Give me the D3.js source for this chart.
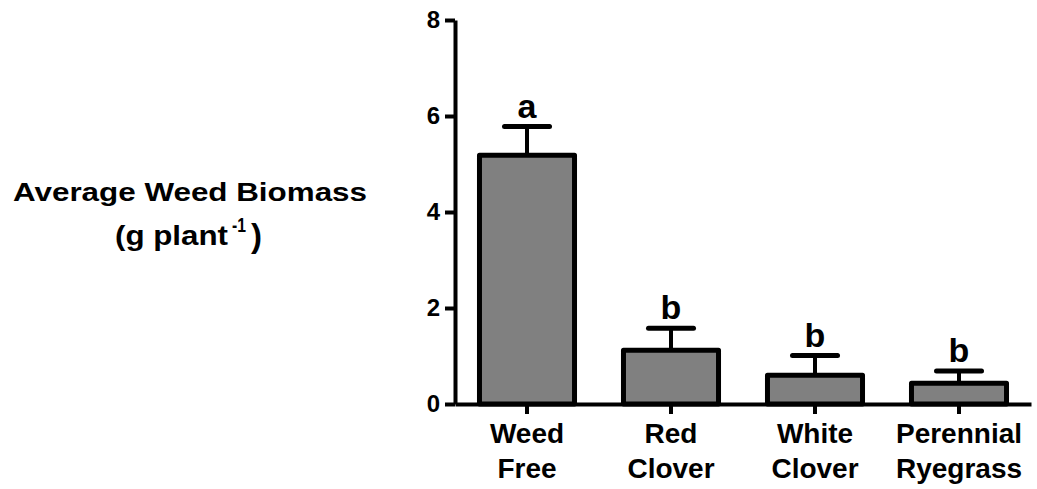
<!DOCTYPE html>
<html>
<head>
<meta charset="utf-8">
<script src="https://cdn.jsdelivr.net/npm/d3@7"></script>
<style>
  html, body { margin: 0; padding: 0; background: #fff; }
  svg { display: block; }
  text { font-family: "Liberation Sans", Arial, sans-serif; font-weight: bold; fill: #000; }
</style>
</head>
<body>
<svg id="chart" width="1037" height="489"></svg>
<script>
const categories = ["Weed Free", "Red Clover", "White Clover", "Perennial Ryegrass"];
const means = [5.18, 1.12, 0.60, 0.43];
const errors = [0.60, 0.46, 0.41, 0.26];
const letters = ["a", "b", "b", "b"];
const yTicks = [0, 2, 4, 6, 8];

const svg = d3.select("#chart");
const plotLeft = 455, plotRight = 1031, plotTop = 20, plotBottom = 404;

const x = d3.scaleBand().domain(categories).range([plotLeft, plotRight])
  .paddingInner(0.34).paddingOuter(0.17);
const y = d3.scaleLinear().domain([0, 8]).range([plotBottom, plotTop]);

const data = categories.map((c, i) => ({ c, m: means[i], e: errors[i], l: letters[i] }));

// bars
svg.append("g").selectAll("rect").data(data).join("rect")
  .attr("x", d => x(d.c))
  .attr("y", d => y(d.m))
  .attr("width", x.bandwidth())
  .attr("height", d => y(0) - y(d.m))
  .attr("fill", "#808080")
  .attr("stroke", "#000")
  .attr("stroke-width", 5)
  .attr("stroke-linejoin", "round");

// error bars
const eg = svg.append("g").attr("stroke", "#000");
eg.selectAll("line.v").data(data).join("line").attr("class", "v")
  .attr("x1", d => x(d.c) + x.bandwidth() / 2)
  .attr("x2", d => x(d.c) + x.bandwidth() / 2)
  .attr("y1", d => y(d.m))
  .attr("y2", d => y(d.m + d.e))
  .attr("stroke-width", 4);
eg.selectAll("line.cap").data(data).join("line").attr("class", "cap")
  .attr("x1", d => x(d.c) + x.bandwidth() / 2 - 22.5)
  .attr("x2", d => x(d.c) + x.bandwidth() / 2 + 22.5)
  .attr("y1", d => y(d.m + d.e))
  .attr("y2", d => y(d.m + d.e))
  .attr("stroke-width", 5)
  .attr("stroke-linecap", "round");

// significance letters
svg.append("g").selectAll("text").data(data).join("text")
  .attr("x", d => x(d.c) + x.bandwidth() / 2)
  .attr("y", d => y(d.m + d.e) - 9)
  .attr("text-anchor", "middle")
  .style("font-size", "34px")
  .text(d => d.l);

// y axis
const yAxis = svg.append("g").attr("transform", `translate(${plotLeft},0)`)
  .call(d3.axisLeft(y).tickValues(yTicks).tickFormat(d3.format("d"))
    .tickSize(10).tickSizeOuter(0).tickPadding(5));
yAxis.select(".domain").attr("stroke-width", 4);
yAxis.selectAll(".tick line").attr("stroke-width", 4);
yAxis.selectAll(".tick text").style("font-size", "24px")
  .style("font-family", "'Liberation Sans', Arial, sans-serif").style("font-weight", "bold");

// x axis
const xAxis = svg.append("g").attr("transform", `translate(0,${plotBottom})`)
  .call(d3.axisBottom(x).tickSize(10).tickSizeOuter(0).tickFormat(""));
xAxis.select(".domain").attr("stroke-width", 4);
xAxis.selectAll(".tick line").attr("stroke-width", 4);
xAxis.selectAll(".tick").each(function(d) {
  const words = d.split(" ");
  const t = d3.select(this).append("text")
    .attr("text-anchor", "middle")
    .style("font-size", "28px")
    .attr("fill", "#000");
  words.forEach((w, i) => {
    t.append("tspan").attr("x", 0).attr("y", 39 + i * 35).text(w);
  });
});

// y axis title (stretched horizontally like the reference)
svg.append("text")
  .attr("x", 13).attr("y", 201)
  .attr("textLength", 354).attr("lengthAdjust", "spacingAndGlyphs")
  .style("font-size", "26px")
  .text("Average Weed Biomass");
svg.append("text")
  .attr("x", 115).attr("y", 245)
  .attr("textLength", 113).attr("lengthAdjust", "spacingAndGlyphs")
  .style("font-size", "28px")
  .text("(g plant");
svg.append("text")
  .attr("x", 232).attr("y", 232)
  .attr("textLength", 14).attr("lengthAdjust", "spacingAndGlyphs")
  .style("font-size", "20px")
  .text("-1");
svg.append("text")
  .attr("x", 251).attr("y", 247)
  .attr("textLength", 11).attr("lengthAdjust", "spacingAndGlyphs")
  .style("font-size", "34px")
  .text(")");
</script>
</body>
</html>
